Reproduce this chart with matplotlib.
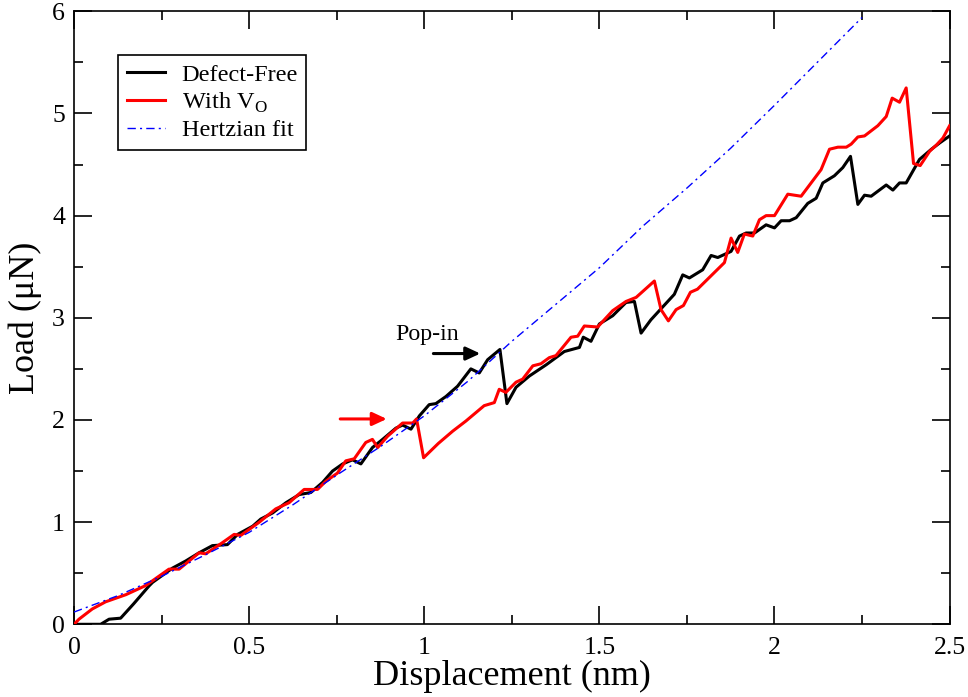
import matplotlib
matplotlib.use("Agg")
import matplotlib.pyplot as plt
from matplotlib.ticker import MultipleLocator

plt.rcParams['font.family'] = ['Liberation Serif', 'DejaVu Serif']
plt.rcParams['mathtext.fontset'] = 'custom'
plt.rcParams['mathtext.rm'] = 'Liberation Serif'

# Defect-free curve
black_x = [0, 0.076, 0.1, 0.133, 0.17, 0.214, 0.224, 0.281, 0.319, 0.357,
           0.395, 0.438, 0.467, 0.51, 0.533, 0.567, 0.605, 0.643, 0.676, 0.71,
           0.738, 0.767, 0.795, 0.819, 0.852, 0.881, 0.919, 0.938, 0.962, 0.986,
           1.014, 1.033, 1.062, 1.095, 1.133, 1.157, 1.181, 1.216, 1.236, 1.262,
           1.3, 1.348, 1.4, 1.443, 1.454, 1.476, 1.5, 1.538, 1.576, 1.6,
           1.619, 1.647, 1.714, 1.738, 1.757, 1.795, 1.819, 1.838, 1.876, 1.9,
           1.919, 1.943, 1.976, 2.0, 2.019, 2.043, 2.062, 2.095, 2.119, 2.138,
           2.171, 2.195, 2.217, 2.238, 2.257, 2.276, 2.319, 2.338, 2.357, 2.376,
           2.414, 2.448, 2.471, 2.5]
black_y = [0, 0, 0.05, 0.06, 0.2, 0.375, 0.41, 0.55, 0.62, 0.7,
           0.77, 0.78, 0.88, 0.96, 1.03, 1.09, 1.19, 1.27, 1.29, 1.39,
           1.5, 1.57, 1.61, 1.57, 1.73, 1.81, 1.92, 1.95, 1.91, 2.04,
           2.15, 2.16, 2.23, 2.33, 2.5, 2.46, 2.59, 2.69, 2.16, 2.32,
           2.43, 2.54, 2.67, 2.71, 2.81, 2.77, 2.94, 3.02, 3.15, 3.16,
           2.85, 2.98, 3.23, 3.42, 3.39, 3.47, 3.61, 3.59, 3.65, 3.8,
           3.83, 3.83, 3.91, 3.88, 3.95, 3.95, 3.98, 4.12, 4.17, 4.32,
           4.39, 4.47, 4.58, 4.11, 4.2, 4.19, 4.3, 4.25, 4.32, 4.32,
           4.55, 4.65, 4.71, 4.78]

# With oxygen vacancy
red_x = [0, 0.014, 0.052, 0.09, 0.148, 0.205, 0.271, 0.3, 0.357, 0.376,
         0.424, 0.457, 0.476, 0.529, 0.576, 0.614, 0.657, 0.695, 0.719, 0.752,
         0.776, 0.8, 0.833, 0.852, 0.867, 0.895, 0.938, 0.967, 0.978, 0.998,
         1.04, 1.081, 1.119, 1.171, 1.2, 1.214, 1.233, 1.262, 1.281, 1.31,
         1.333, 1.357, 1.376, 1.419, 1.438, 1.457, 1.495, 1.538, 1.576, 1.605,
         1.657, 1.676, 1.697, 1.719, 1.74, 1.76, 1.78, 1.857, 1.876, 1.895,
         1.914, 1.938, 1.957, 1.976, 2.0, 2.038, 2.076, 2.133, 2.157, 2.181,
         2.205, 2.219, 2.238, 2.257, 2.295, 2.319, 2.336, 2.357, 2.376, 2.397,
         2.416, 2.443, 2.462, 2.481, 2.5]
red_y = [0, 0.05, 0.15, 0.22, 0.29, 0.38, 0.54, 0.54, 0.7, 0.69,
         0.8, 0.88, 0.87, 1.0, 1.13, 1.19, 1.32, 1.32, 1.4, 1.48,
         1.6, 1.62, 1.78, 1.81, 1.73, 1.84, 1.97, 1.97, 2.01, 1.63,
         1.77, 1.89, 1.99, 2.14, 2.17, 2.3, 2.27, 2.37, 2.4, 2.53,
         2.55, 2.61, 2.63, 2.81, 2.82, 2.92, 2.91, 3.07, 3.16, 3.2,
         3.36, 3.08, 2.97, 3.08, 3.12, 3.25, 3.28, 3.54, 3.78, 3.64,
         3.82, 3.8, 3.96, 4.0, 4.0, 4.21, 4.19, 4.45, 4.65, 4.67,
         4.67, 4.7, 4.77, 4.78, 4.88, 4.97, 5.15, 5.11, 5.25, 4.51,
         4.49, 4.63, 4.69, 4.76, 4.88]

# Hertzian fit
fit_x = [0, 0.125, 0.25, 0.375, 0.5, 0.625, 0.75, 0.875, 1.0, 1.125,
         1.25, 1.375, 1.5, 1.625, 1.75, 1.875, 2.0, 2.125, 2.25]
fit_y = [0.12, 0.28, 0.47, 0.68, 0.9, 1.17, 1.46, 1.74, 2.04, 2.38,
         2.77, 3.13, 3.49, 3.9, 4.27, 4.66, 5.08, 5.51, 5.94]

fig = plt.figure(figsize=(9.68, 6.97), dpi=100)
ax = fig.add_axes([0.0765, 0.1043, 0.9045, 0.8795])

ax.plot(black_x, black_y, color='black', lw=2.2, label='Defect-Free', zorder=3)
ax.plot(red_x, red_y, color='#ff0000', lw=2.2, label='With V$_\\mathrm{O}$', zorder=4)
ax.plot(fit_x, fit_y, color='#0000ff', lw=1.0, ls=(0, (6, 3, 1.5, 3)), label='Hertzian fit', zorder=5)

ax.set_xlim(0, 2.5)
ax.set_ylim(0, 6)
ax.xaxis.set_major_locator(MultipleLocator(0.5))
ax.xaxis.set_minor_locator(MultipleLocator(0.25))
ax.yaxis.set_major_locator(MultipleLocator(1))
ax.yaxis.set_minor_locator(MultipleLocator(0.5))
ax.tick_params(which='both', direction='in', top=True, right=True, width=1.2)
ax.tick_params(which='major', length=13, labelsize=18.5)
ax.tick_params(which='minor', length=6.5)
ax.tick_params(axis='x', which='major', pad=9.5)
ax.tick_params(axis='y', which='major', pad=6.5)
ax.set_xticks([0, 0.5, 1, 1.5, 2, 2.5])
ax.set_xticklabels(['0', '0.5', '1', '1.5', '2', '2.5'])
for s in ax.spines.values():
    s.set_linewidth(1.2)

ax.set_xlabel('Displacement (nm)', fontsize=26, labelpad=0)
ax.set_ylabel('Load (μN)', fontsize=26, labelpad=7)

leg = ax.legend(loc='upper left', bbox_to_anchor=(0.0503, 0.9287), fontsize=17.5,
                frameon=True, fancybox=False, edgecolor='black', framealpha=1,
                handlelength=1.57, handletextpad=0.69, borderpad=0.35, labelspacing=0.2,
                borderaxespad=0)
leg.get_frame().set_linewidth(1.2)

arrow_style = '-|>,head_length=0.43,head_width=0.2'
ax.annotate('', xy=(1.160, 2.65), xytext=(1.026, 2.65),
            arrowprops=dict(arrowstyle=arrow_style, color='black', lw=2.2,
                            mutation_scale=20, shrinkA=0, shrinkB=0))
ax.text(1.007, 2.78, 'Pop-in', fontsize=17.2, ha='center', va='baseline')
ax.annotate('', xy=(0.893, 2.01), xytext=(0.760, 2.01),
            arrowprops=dict(arrowstyle=arrow_style, color='#ff0000', lw=2.2,
                            mutation_scale=20, shrinkA=0, shrinkB=0))

fig.savefig('out.png', dpi=100)
